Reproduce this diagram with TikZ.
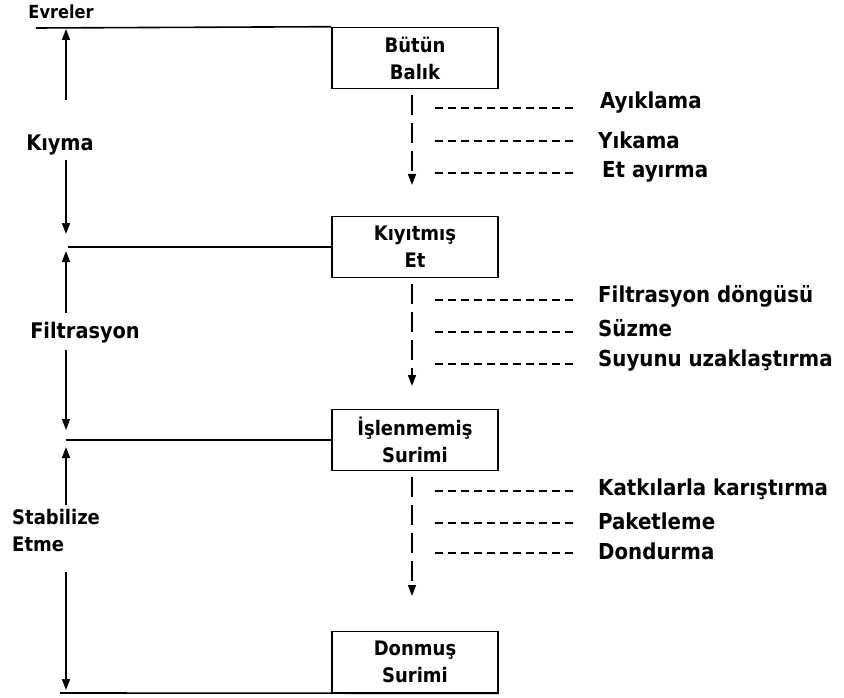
\documentclass[tikz,border=0pt]{standalone}
\usepackage{fontspec}
\setmainfont{DejaVu Sans Condensed}
\usetikzlibrary{arrows.meta}
\begin{document}
\begin{tikzpicture}[x=1pt,y=-1pt,
  every node/.style={font=\bfseries\fontsize{20}{27}\selectfont, inner sep=0pt},
  stagebox/.style={draw, line width=1.6pt, minimum width=166pt, minimum height=61pt, align=center},
  phaselabel/.style={font=\bfseries\fontsize{21.5}{27}\selectfont},
  phaseline/.style={line width=1.6pt},
  arr/.style={line width=1.6pt, -{Triangle[length=11pt,width=8pt]}},
  flowarr/.style={line width=1.6pt, dash pattern=on 20pt off 8pt, -{Triangle[length=11pt,width=8pt]}},
  stepdash/.style={line width=1.6pt, dash pattern=on 8pt off 5pt},
  steptext/.style={anchor=west, font=\bfseries\fontsize{22}{27}\selectfont}]
\useasboundingbox (0,0) rectangle (844,698);
% boxes
\node[stagebox] (b1) at (415,58) {Bütün\\Balık};
\node[stagebox] (b2) at (415,247) {Kıyıtmış\\Et};
\node[stagebox] (b3) at (415,440) {İşlenmemiş\\Surimi};
\node[stagebox] (b4) at (415,662) {Donmuş\\Surimi};
% phase lines
\coordinate (l0) at (36,28);
\coordinate (l1) at (68,247);
\coordinate (l2) at (66,440);
\coordinate (l3) at (60,693);
\draw[phaseline] (l0) -- (b1.north west);
\draw[phaseline] (l1) -- (b2.west);
\draw[phaseline] (l2) -- (b3.west);
\draw[phaseline] (l3) -- (b4.south east);
% phase labels
\node[font=\bfseries\fontsize{18}{27}\selectfont] (ev) at (61,12) {Evreler};
\node[phaselabel] (kiyma) at (60,145) {Kıyma};
\node[phaselabel] (filt) at (85,333) {Filtrasyon};
\node[align=left, anchor=west, font=\bfseries\fontsize{20}{27}\selectfont] (stab) at (12,531) {Stabilize\\Etme};
% phase arrows
\coordinate (k1) at (66,100); \coordinate (k1e) at (66,29);
\coordinate (k2) at (66,160); \coordinate (k2e) at (66,234);
\coordinate (f1) at (66,313); \coordinate (f1e) at (66,251);
\coordinate (f2) at (66,350); \coordinate (f2e) at (66,430);
\coordinate (s1) at (66,505); \coordinate (s1e) at (66,447);
\coordinate (s2) at (66,572); \coordinate (s2e) at (66,690);
\draw[arr] (k1) -- (k1e);
\draw[arr] (k2) -- (k2e);
\draw[arr] (f1) -- (f1e);
\draw[arr] (f2) -- (f2e);
\draw[arr] (s1) -- (s1e);
\draw[arr] (s2) -- (s2e);
% flow arrows
\coordinate (e1) at (412,185);
\coordinate (e2) at (412,386);
\coordinate (e3) at (412,596);
\draw[flowarr] ([xshift=-3pt,yshift=-6pt]b1.south) -- (e1);
\draw[flowarr] ([xshift=-3pt,yshift=-6pt]b2.south) -- (e2);
\draw[flowarr] ([xshift=-3pt,yshift=-6pt]b3.south) -- (e3);
% steps
\node[steptext] (t1) at (600,103) {Ayıklama};
\node[steptext] (t2) at (598,140) {Yıkama};
\node[steptext] (t3) at (602,172) {Et ayırma};
\node[steptext] (t4) at (598,296) {Filtrasyon döngüsü};
\node[steptext] (t5) at (598,328) {Süzme};
\node[steptext] (t6) at (598,361) {Suyunu uzaklaştırma};
\node[steptext] (t7) at (598,489) {Katkılarla karıştırma};
\node[steptext] (t8) at (598,521) {Paketleme};
\node[steptext] (t9) at (598,551) {Dondurma};
\foreach \t/\y in {t1/108,t2/141,t3/173,t4/300,t5/332,t6/364,t7/491,t8/523,t9/553}{
  \coordinate (d\t) at (435,\y);
  \draw[stepdash] (d\t) -- ([xshift=-25pt]\t.west |- d\t);
}
\end{tikzpicture}
\end{document}
